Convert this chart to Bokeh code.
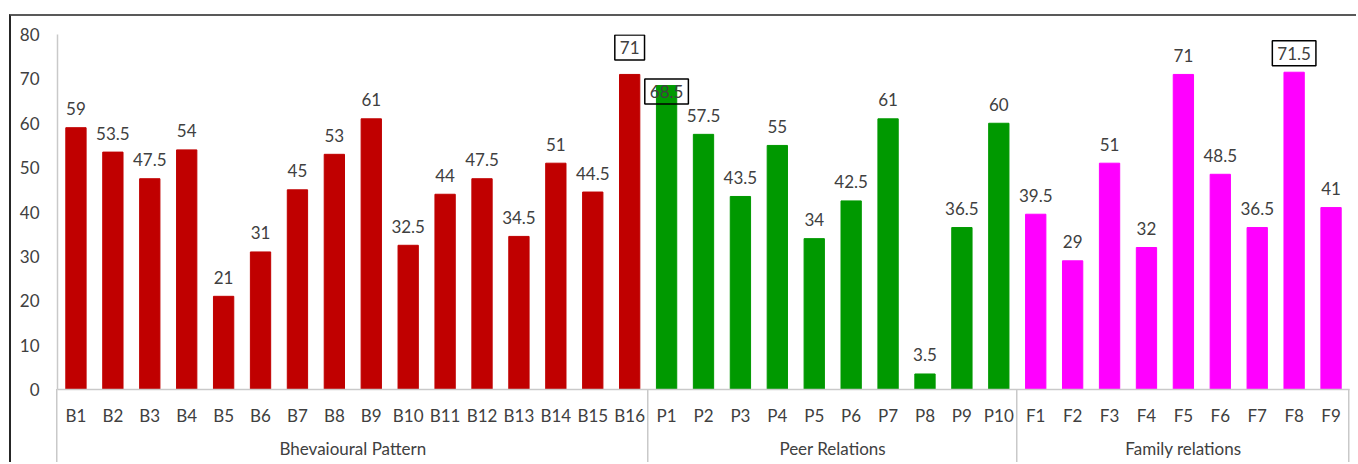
from bokeh.plotting import figure
from bokeh.models import FactorRange, Range1d, ColumnDataSource, FixedTicker
from bokeh.core.properties import value
from bokeh.embed import file_html
from bokeh.resources import INLINE

# ---- data ----
group_names = ["Bhevaioural Pattern", "Peer Relations", "Family relations"]
b_labels = ["B%d" % i for i in range(1, 17)]
b_values = [59, 53.5, 47.5, 54, 21, 31, 45, 53, 61, 32.5, 44, 47.5, 34.5, 51, 44.5, 71]
p_labels = ["P%d" % i for i in range(1, 11)]
p_values = [68.5, 57.5, 43.5, 55, 34, 42.5, 61, 3.5, 36.5, 60]
f_labels = ["F%d" % i for i in range(1, 10)]
f_values = [39.5, 29, 51, 32, 71, 48.5, 36.5, 71.5, 41]
y_ticks = [0, 10, 20, 30, 40, 50, 60, 70, 80]

# ---- styles ----
group_colors = ["#C00000", "#009900", "#FF00FF"]
boxed = {"B16": -27, "P1": 6, "F8": -19}   # label offsets (px) for boxed labels
FONT = "Lato"
FS = "17px"
W, H = 1347, 448
ML, MR, MT, MB = 46, 9, 18, 75

groups = [(group_names[0], b_labels, b_values),
          (group_names[1], p_labels, p_values),
          (group_names[2], f_labels, f_values)]

factors, vals, cols = [], [], []
for (g, labs, vs), c in zip(groups, group_colors):
    for lab, v in zip(labs, vs):
        factors.append((g, lab))
        vals.append(v)
        cols.append(c)

plain = [i for i, f in enumerate(factors) if f[1] not in boxed]
boxi = [i for i, f in enumerate(factors) if f[1] in boxed]

src = ColumnDataSource(dict(x=factors, top=vals, color=cols))
lab_src = ColumnDataSource(dict(x=[factors[i] for i in plain],
                                y=[vals[i] for i in plain],
                                text=["%g" % vals[i] for i in plain],
                                off=[-19] * len(plain)))
box_src = ColumnDataSource(dict(x=[factors[i] for i in boxi],
                                y=[vals[i] for i in boxi],
                                text=["%g" % vals[i] for i in boxi],
                                off=[boxed[factors[i][1]] for i in boxi]))

p = figure(width=W, height=H, output_backend="svg", toolbar_location=None,
           x_range=FactorRange(*factors, factor_padding=0, group_padding=0,
                               subgroup_padding=0, range_padding=0),
           y_range=Range1d(0, 80),
           min_border_left=ML, min_border_right=MR, min_border_top=MT, min_border_bottom=MB)
p.margin = (14, 0, 0, 9)
p.border_fill_color = None
p.background_fill_color = None

# group separator lines below the category axis (full height to the bottom)
n_total = len(factors)
frame_w = W - ML - MR
bounds = [0, len(b_labels), len(b_labels) + len(p_labels), n_total]
seps = ["linear-gradient(#c9c9c9,#c9c9c9) %.1fpx %dpx / 1.5px %dpx no-repeat"
        % (ML + frame_w * k / n_total - 0.75, H - MB, MB) for k in bounds]
p.styles = {"border-top": "2px solid #595959", "border-left": "2px solid #262626",
            "background": ", ".join(seps) + ", white"}

p.vbar(x="x", top="top", width=0.55, color="color", source=src)

p.text(x="x", y="y", text="text", y_offset="off", source=lab_src,
       text_align="center", text_baseline="middle", text_font=value(FONT),
       text_font_size=FS, text_color="#404040")
p.text(x="x", y="y", text="text", y_offset="off", source=box_src,
       text_align="center", text_baseline="middle", text_font=value(FONT),
       text_font_size=FS, text_color="#404040",
       border_line_color="black", border_line_width=1.5, padding=(5, 6))

p.outline_line_color = None
p.grid.grid_line_color = None

p.yaxis.ticker = FixedTicker(ticks=y_ticks)
p.yaxis.major_tick_line_color = None
p.yaxis.minor_tick_line_color = None
p.yaxis.axis_line_color = "#c9c9c9"
p.yaxis.axis_line_width = 1.5
p.yaxis.major_label_standoff = 12
p.yaxis.major_label_text_font = FONT
p.yaxis.major_label_text_font_size = FS
p.yaxis.major_label_text_color = "#404040"

p.xaxis.major_tick_line_color = None
p.xaxis.minor_tick_line_color = None
p.xaxis.axis_line_color = "#c9c9c9"
p.xaxis.axis_line_width = 1.5
p.xaxis.major_label_standoff = 9
p.xaxis.major_label_text_font = FONT
p.xaxis.major_label_text_font_size = FS
p.xaxis.major_label_text_color = "#404040"
p.xaxis.group_text_font = FONT
p.xaxis.group_text_font_size = FS
p.xaxis.group_text_color = "#404040"
p.xaxis.group_text_font_style = "normal"
p.xaxis.separator_line_color = None

open("out.html", "w").write(file_html(p, INLINE))
